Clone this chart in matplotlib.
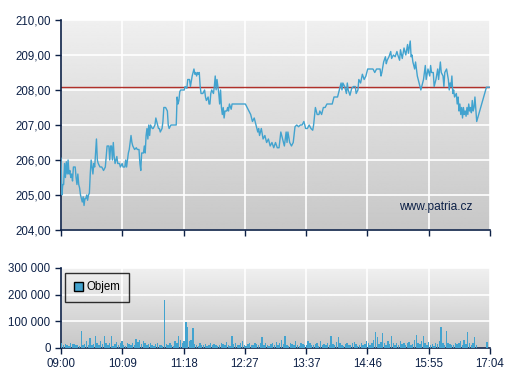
import numpy as np
import matplotlib
matplotlib.use("Agg")
import matplotlib.pyplot as plt
from matplotlib.patches import Patch

plt.rcParams['font.family'] = ['Liberation Sans', 'DejaVu Sans']

# cena: minuty od 09:00 a hodnota
t_min = [0, 1, 2, 3, 4, 5, 6, 7, 8, 9, 10, 11, 12, 13, 14, 16, 17, 18, 19, 20,
         21, 22, 23, 24, 25, 26, 27, 28, 29, 30, 31, 32, 33, 34, 35, 36, 37, 38, 40, 41,
         42, 44, 46, 48, 50, 51, 52, 54, 55, 56, 57, 58, 59, 60, 61, 63, 64, 66, 67, 69,
         70, 72, 73, 74, 76, 77, 78, 79, 80, 81, 83, 85, 86, 88, 89, 90, 91, 93, 94, 95,
         96, 97, 98, 99, 100, 101, 103, 104, 106, 107, 109, 110, 111, 112, 114, 115, 116, 118, 120, 121,
         122, 124, 126, 128, 130, 131, 132, 133, 134, 135, 137, 139, 140, 142, 143, 145, 146, 148, 149, 150,
         151, 152, 153, 154, 155, 156, 157, 158, 160, 162, 163, 164, 166, 167, 168, 169, 170, 172, 173, 174,
         175, 176, 177, 178, 179, 180, 181, 182, 183, 184, 185, 187, 188, 189, 190, 192, 193, 195, 200, 205,
         208, 210, 212, 214, 216, 218, 220, 222, 223, 224, 226, 228, 230, 232, 234, 236, 238, 240, 242, 244,
         246, 248, 250, 252, 254, 255, 256, 258, 260, 262, 264, 266, 268, 270, 272, 274, 276, 278, 280, 282,
         284, 285, 287, 289, 291, 292, 294, 296, 298, 300, 302, 304, 306, 308, 310, 312, 314, 316, 317, 318,
         320, 322, 323, 324, 326, 328, 330, 332, 333, 335, 336, 338, 340, 342, 344, 346, 348, 350, 352, 354,
         356, 358, 360, 361, 362, 364, 366, 367, 368, 370, 372, 373, 375, 377, 379, 380, 382, 383, 385, 387,
         389, 391, 392, 394, 395, 396, 397, 399, 400, 402, 404, 406, 407, 409, 411, 412, 414, 416, 417, 418,
         420, 421, 423, 425, 426, 428, 429, 431, 432, 433, 435, 437, 438, 439, 440, 441, 442, 443, 444, 446,
         447, 448, 449, 450, 451, 452, 453, 454, 455, 456, 457, 458, 459, 460, 461, 462, 463, 464, 465, 466,
         467, 469, 480, 484]
cena = [206.05, 205.0, 205.3, 205.3, 205.9, 205.5, 205.95, 205.6, 206.0, 205.6, 205.7, 205.5, 205.6, 205.4, 205.8, 205.8, 205.5, 205.3, 205.6, 205.3,
        205.2, 205.0, 204.9, 204.8, 204.95, 204.7, 204.9, 204.9, 205.0, 204.85, 205.0, 205.05, 205.6, 206.0, 205.8, 205.6, 205.9, 205.8, 206.6, 206.0,
        205.9, 205.8, 205.8, 205.7, 205.8, 206.1, 206.4, 206.4, 206.0, 206.4, 206.4, 206.0, 206.5, 206.1, 205.9, 206.1, 205.9, 205.9, 205.8, 205.9,
        205.8, 205.8, 206.0, 205.8, 206.2, 206.3, 206.5, 206.7, 206.5, 206.4, 206.3, 206.35, 206.3, 206.3, 205.9, 205.7, 206.2, 206.2, 206.4, 206.2,
        206.7, 206.9, 206.6, 207.0, 206.7, 207.0, 206.9, 206.9, 207.0, 207.2, 207.0, 206.9, 206.9, 206.8, 206.9, 207.1, 207.5, 207.5, 207.4, 207.0,
        206.9, 207.0, 207.0, 207.0, 207.0, 207.8, 207.6, 207.7, 207.95, 208.0, 208.0, 208.0, 208.1, 208.05, 208.3, 208.3, 208.1, 208.4, 208.5, 208.6,
        208.45, 208.5, 208.4, 208.5, 208.45, 208.5, 208.1, 207.9, 207.9, 208.0, 207.8, 207.7, 207.8, 207.6, 207.6, 207.9, 208.0, 207.9, 208.1, 208.4,
        208.0, 208.3, 208.1, 207.9, 207.6, 208.0, 207.5, 207.3, 207.5, 207.2, 207.4, 207.4, 207.5, 207.4, 207.6, 207.45, 207.6, 207.6, 207.6, 207.6,
        207.6, 207.5, 207.4, 207.3, 207.1, 207.2, 207.0, 206.8, 206.9, 206.7, 206.9, 206.6, 206.7, 206.5, 206.6, 206.4, 206.5, 206.35, 206.5, 206.35,
        206.35, 206.8, 206.6, 206.4, 206.8, 206.5, 206.8, 206.5, 206.4, 206.5, 206.95, 207.0, 206.95, 207.0, 207.0, 207.1, 206.9, 206.9, 207.0, 206.9,
        206.85, 207.0, 207.5, 207.3, 207.3, 207.4, 207.3, 207.5, 207.5, 207.6, 207.6, 207.6, 207.6, 207.8, 207.8, 207.8, 208.0, 208.2, 208.0, 208.2,
        208.1, 207.9, 208.2, 208.0, 207.85, 208.05, 208.1, 208.1, 207.9, 208.0, 208.3, 208.2, 208.45, 208.3, 208.4, 208.6, 208.6, 208.6, 208.6, 208.5,
        208.6, 208.6, 208.6, 208.4, 208.5, 208.8, 208.95, 208.75, 208.85, 208.95, 209.1, 208.9, 209.0, 208.95, 209.1, 209.0, 208.85, 209.15, 208.9, 209.2,
        209.0, 209.3, 209.05, 209.4, 208.95, 209.0, 208.8, 208.6, 208.8, 208.4, 208.2, 208.0, 208.1, 208.3, 208.7, 208.3, 208.6, 208.4, 208.7, 208.5,
        208.5, 208.1, 208.3, 208.6, 208.3, 208.8, 208.5, 208.4, 208.1, 208.5, 208.6, 208.3, 208.0, 208.2, 208.1, 208.4, 207.9, 208.0, 207.8, 207.9,
        207.6, 207.8, 207.4, 207.6, 207.3, 207.5, 207.2, 207.5, 207.3, 207.4, 207.25, 207.5, 207.3, 207.6, 207.4, 207.5, 207.35, 207.7, 207.4, 207.5,
        207.8, 207.1, 208.08, 208.08]
ref_cena = 208.08

# objem po 2 minutach, v tisicich
objem_k = [18, 10, 15, 12, 8, 20, 15, 14, 10, 12,
           8, 65, 12, 15, 25, 10, 38, 12, 14, 45,
           20, 10, 25, 15, 46, 18, 12, 20, 45, 8,
           15, 22, 10, 18, 25, 12, 8, 20, 15, 10,
           18, 12, 34, 22, 30, 15, 25, 20, 10, 15,
           20, 12, 8, 15, 18, 10, 12, 8, 180, 15,
           10, 20, 12, 8, 25, 18, 46, 30, 20, 25,
           97, 80, 25, 30, 74, 15, 12, 8, 20, 10,
           12, 15, 8, 10, 18, 12, 15, 10, 8, 12,
           20, 15, 10, 22, 12, 8, 45, 15, 20, 12,
           10, 18, 25, 12, 8, 15, 20, 10, 12, 18,
           15, 10, 20, 42, 12, 18, 10, 8, 15, 20,
           12, 22, 10, 18, 30, 15, 45, 12, 8, 20,
           15, 10, 25, 12, 8, 20, 15, 10, 12, 25,
           18, 12, 10, 15, 20, 8, 25, 12, 15, 10,
           20, 12, 45, 15, 10, 22, 42, 18, 12, 8,
           15, 20, 12, 10, 18, 22, 15, 8, 12, 20,
           10, 15, 25, 18, 12, 20, 30, 60, 40, 15,
           22, 55, 18, 12, 25, 15, 46, 20, 10, 18,
           12, 25, 15, 20, 10, 18, 22, 12, 15, 30,
           50, 20, 15, 25, 45, 18, 12, 22, 10, 15,
           8, 20, 15, 25, 79, 18, 12, 64, 20, 15,
           10, 12, 18, 15, 20, 25, 12, 30, 15, 60,
           20, 12, 18, 42, 10, 0, 0, 0, 0, 0,
           24, 0, 52]

tick_labels = ['09:00', '10:09', '11:18', '12:27', '13:37', '14:46', '15:55', '17:04']
total_min = 484

navy = '#0d2147'
blue = '#42a3cf'

fig = plt.figure(figsize=(5.07, 3.80), dpi=100)
ax1 = fig.add_axes([61/507, 1-230/380, 429/507, 210/380])
ax2 = fig.add_axes([61/507, 1-348/380, 429/507, 80/380])

xt = np.linspace(0, total_min, 8)
grad = np.linspace(0.94, 0.78, 256).reshape(-1, 1)

for ax in (ax1, ax2):
    ax.imshow(grad, cmap='gray', vmin=0, vmax=1, aspect='auto',
              extent=[0, 1, 0, 1], transform=ax.transAxes, zorder=0)
    ax.set_xlim(0, total_min)
    ax.set_xticks(xt)
    ax.grid(True, color='white', linewidth=1.2, zorder=1)
    for s in ('top', 'right'):
        ax.spines[s].set_visible(False)
    for s in ('left', 'bottom'):
        ax.spines[s].set_color(navy)
        ax.spines[s].set_linewidth(1.2)
    ax.tick_params(colors=navy, labelcolor=navy, labelsize=8.3, length=4, width=1)
    ax.set_axisbelow(True)

# horni graf
ax1.plot(t_min, cena, color=blue, linewidth=1.0, zorder=3)
ax1.axhline(ref_cena, color='#b0302a', linewidth=1.0, zorder=2)
ax1.set_ylim(204, 210)
ax1.set_yticks(np.arange(204, 211, 1))
ax1.set_yticklabels([f'{v:.2f}'.replace('.', ',') for v in range(204, 211)])
ax1.set_xticklabels([])
ax1.text(0.96, 0.08, 'www.patria.cz', transform=ax1.transAxes, ha='right',
         va='bottom', color=navy, fontsize=8.6)

# objem
t_obj = np.arange(len(objem_k)) * 2
ax2.bar(t_obj, np.array(objem_k) * 1000, width=1.6, color=blue, zorder=3, align='edge')
ax2.set_ylim(0, 300000)
ax2.set_yticks([0, 100000, 200000, 300000])
ax2.set_yticklabels(['0', '100 000', '200 000', '300 000'])
ax2.set_xticklabels(tick_labels)
leg = ax2.legend(handles=[Patch(facecolor=blue, edgecolor='black', label='Objem')],
                 loc='upper left', bbox_to_anchor=(0.009, 0.94), borderaxespad=0,
                 fontsize=8.3, frameon=True, fancybox=False, handlelength=0.8,
                 handleheight=0.8, handletextpad=0.35, borderpad=0.75)
leg.get_frame().set_edgecolor('black')
leg.get_frame().set_facecolor('none')
leg.get_frame().set_linewidth(1)

fig.savefig('out.png', dpi=100)
